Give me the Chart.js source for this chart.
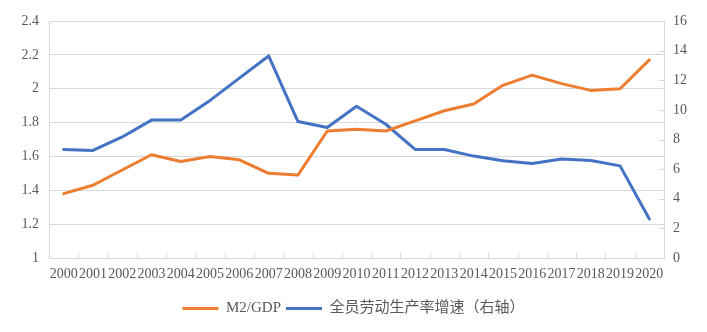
<!DOCTYPE html>
<html>
<head>
<meta charset="utf-8">
<script src="https://cdn.jsdelivr.net/npm/chart.js@4"></script>
<style>
html,body{margin:0;padding:0;background:#fff;}
#wrap{width:707px;height:332px;position:relative;}
</style>
</head>
<body>
<div id="wrap"><canvas id="c" width="707" height="332"></canvas></div>
<script>
const years = ['2000','2001','2002','2003','2004','2005','2006','2007','2008','2009','2010','2011','2012','2013','2014','2015','2016','2017','2018','2019','2020'];
const m2gdp = [1.38,1.43,1.52,1.61,1.57,1.60,1.58,1.50,1.49,1.75,1.76,1.75,1.81,1.87,1.91,2.02,2.08,2.03,1.99,2.00,2.17];
const laborGrowth = [7.33,7.26,8.17,9.31,9.31,10.64,12.14,13.64,9.21,8.81,10.24,9.03,7.33,7.33,6.88,6.56,6.38,6.69,6.58,6.22,2.63];
const seriesNames = ['M2/GDP','全员劳动生产率增速（右轴）'];
const leftTicks = {min:1, max:2.4, step:0.2};
const rightTicks = {min:0, max:16, step:2};

const gridC = '#d9d9d9';
const textC = '#595959';
const serif = "'Liberation Serif','Times New Roman','Noto Sans CJK SC',serif";

const innerTicks = {
  id:'innerTicks',
  beforeDatasetsDraw(chart){
    const ctx = chart.ctx, x = chart.scales.x, yr = chart.scales.y1, a = chart.chartArea;
    ctx.save();
    ctx.strokeStyle = gridC; ctx.lineWidth = 1;
    ctx.beginPath();
    const n = x.ticks.length;
    for(let i=1;i<n;i++){
      const px = Math.round((x.getPixelForTick(i-1)+x.getPixelForTick(i))/2)+0.5;
      ctx.moveTo(px, a.bottom); ctx.lineTo(px, a.bottom-5);
    }
    yr.ticks.forEach(t=>{
      const py = Math.round(yr.getPixelForValue(t.value))+0.5;
      ctx.moveTo(a.right, py); ctx.lineTo(a.right-5, py);
    });
    ctx.stroke();
    ctx.restore();
  }
};

new Chart(document.getElementById('c'),{
  type:'line',
  data:{
    labels: years,
    datasets:[
      {label:seriesNames[0], data:m2gdp, yAxisID:'y', borderColor:'#ED7D31', backgroundColor:'#ED7D31', borderWidth:3, pointRadius:0, tension:0, borderJoinStyle:'round', borderCapStyle:'round'},
      {label:seriesNames[1], data:laborGrowth, yAxisID:'y1', borderColor:'#4472C4', backgroundColor:'#4472C4', borderWidth:3, pointRadius:0, tension:0, borderJoinStyle:'round', borderCapStyle:'round'}
    ]
  },
  options:{
    responsive:false,
    animation:false,
    layout:{padding:{top:21,left:0,right:0,bottom:6}},
    plugins:{
      tooltip:{enabled:false},
      legend:{
        position:'bottom',
        labels:{
          color:textC,
          font:{family:serif, size:15},
          boxWidth:36, boxHeight:3, padding:5,
          generateLabels(chart){
            return Chart.defaults.plugins.legend.labels.generateLabels(chart).map(l=>{
              l.fillStyle = l.strokeStyle; l.lineWidth = 0; return l;
            });
          }
        }
      }
    },
    scales:{
      x:{
        offset:true,
        grid:{display:false, drawTicks:false},
        border:{display:true, color:gridC},
        ticks:{color:textC, font:{family:serif, size:14}, autoSkip:false, maxRotation:0, minRotation:0, padding:8},
        afterFit(s){ s.height = 38; }
      },
      y:{
        position:'left',
        min:leftTicks.min, max:leftTicks.max,
        grid:{color:gridC, drawTicks:false},
        border:{display:true, color:gridC},
        ticks:{stepSize:leftTicks.step, color:textC, font:{family:serif, size:14}, padding:10,
          callback:v=>String(Math.round(v*10)/10)},
        afterFit(s){ s.width = 49; }
      },
      y1:{
        position:'right',
        min:rightTicks.min, max:rightTicks.max,
        grid:{display:false, drawTicks:false},
        border:{display:true, color:gridC},
        ticks:{stepSize:rightTicks.step, color:textC, font:{family:serif, size:14}, padding:9},
        afterFit(s){ s.width = 43; }
      }
    }
  },
  plugins:[innerTicks]
});
</script>
</body>
</html>
